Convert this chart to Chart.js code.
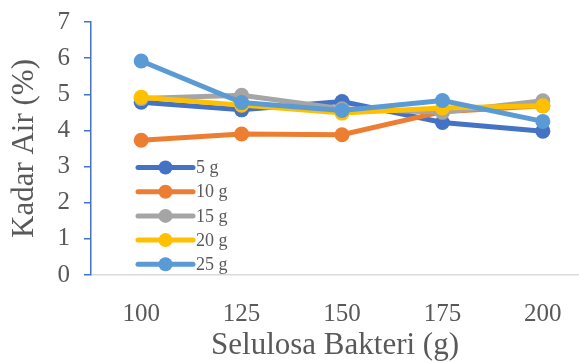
<!DOCTYPE html>
<html>
<head>
<meta charset="utf-8">
<script src="https://cdn.jsdelivr.net/npm/chart.js@4"></script>
<style>
  html, body { margin: 0; padding: 0; background: #fff; }
  #wrap { width: 579px; height: 363px; position: relative; }
</style>
</head>
<body>
<div id="wrap"><canvas id="c"></canvas></div>
<script>
// Bacterial cellulose amount (g) on the x axis
const categories = [100, 125, 150, 175, 200];
// Water content (%) per series
const seriesNames = ['5 g', '10 g', '15 g', '20 g', '25 g'];
const s5g  = [4.78, 4.57, 4.80, 4.22, 3.98];
const s10g = [3.73, 3.90, 3.88, 4.52, 4.68];
const s15g = [4.88, 4.97, 4.60, 4.50, 4.82];
const s20g = [4.92, 4.70, 4.48, 4.62, 4.68];
const s25g = [5.92, 4.77, 4.55, 4.83, 4.25];
const yTicks = [0, 1, 2, 3, 4, 5, 6, 7];

const colors = ['#4472C4', '#ED7D31', '#A5A5A5', '#FFC000', '#5B9BD5'];
const values = [s5g, s10g, s15g, s20g, s25g];
const FONT = 'Liberation Serif';
const TEXT = '#595959';

const datasets = values.map((vals, i) => ({
  label: seriesNames[i],
  data: vals.map((v, j) => ({ x: categories[j], y: v })),
  borderColor: colors[i],
  backgroundColor: colors[i],
  borderWidth: 5,
  pointRadius: 7.5,
  pointHoverRadius: 7.5,
  pointBorderWidth: 0,
  tension: 0,
  clip: false,
  order: values.length - i   // later series drawn on top
}));

// Legend drawn inside the plot area, below the lines
const innerLegend = {
  id: 'innerLegend',
  afterDatasetsDraw(chart) {
    const ctx = chart.ctx;
    const area = chart.chartArea;
    const x0 = area.left + 47, lineLen = 55, rowH = 24.2;
    const y0 = 167.5;
    ctx.save();
    ctx.font = '18px "' + FONT + '"';
    ctx.textBaseline = 'middle';
    ctx.textAlign = 'left';
    chart.data.datasets.forEach((ds, i) => {
      const y = y0 + i * rowH;
      ctx.strokeStyle = ds.borderColor;
      ctx.lineWidth = 5;
      ctx.lineCap = 'round';
      ctx.beginPath();
      ctx.moveTo(x0, y);
      ctx.lineTo(x0 + lineLen, y);
      ctx.stroke();
      ctx.fillStyle = ds.backgroundColor;
      ctx.beginPath();
      ctx.arc(x0 + lineLen / 2, y, 7, 0, Math.PI * 2);
      ctx.fill();
      ctx.fillStyle = TEXT;
      ctx.fillText(ds.label, x0 + lineLen + 3, y + 1);
    });
    ctx.restore();
  }
};

new Chart(document.getElementById('c'), {
  type: 'line',
  data: { datasets },
  plugins: [innerLegend],
  options: {
    responsive: true,
    maintainAspectRatio: false,
    animation: false,
    events: [],
    layout: { autoPadding: false, padding: { top: 22, right: 0, left: 0, bottom: 0 } },
    plugins: { legend: { display: false }, tooltip: { enabled: false } },
    scales: {
      x: {
        type: 'linear',
        min: 87.5,
        max: 209,
        afterBuildTicks(scale) { scale.ticks = categories.map(v => ({ value: v })); },
        afterFit(scale) {
          scale.height = 88;
          scale.paddingLeft = 0;
          scale.paddingRight = 0;
        },
        grid: { display: false },
        border: { display: true, color: '#D9D9D9', width: 1.5 },
        ticks: {
          color: TEXT,
          font: { family: FONT, size: 25 },
          padding: 16,
          maxRotation: 0,
          autoSkip: false
        },
        title: {
          display: true,
          text: 'Selulosa Bakteri (g)',
          color: TEXT,
          font: { family: FONT, size: 31 },
          padding: { top: 0, bottom: -1 }
        }
      },
      y: {
        min: 0,
        max: 7,
        afterBuildTicks(scale) { scale.ticks = yTicks.map(v => ({ value: v })); },
        afterFit(scale) {
          scale.width = 91;
          scale.paddingTop = 0;
          scale.paddingBottom = 0;
        },
        grid: {
          display: true,
          drawOnChartArea: false,
          drawTicks: true,
          tickLength: 7,
          color: '#4472C4',
          lineWidth: 1.5
        },
        border: { display: true, color: '#4472C4', width: 1.5 },
        ticks: {
          color: TEXT,
          font: { family: FONT, size: 25 },
          padding: 14
        },
        title: {
          display: true,
          text: 'Kadar Air (%)',
          color: TEXT,
          font: { family: FONT, size: 31 },
          padding: { top: 6, bottom: 0 }
        }
      }
    }
  }
});
</script>
</body>
</html>
